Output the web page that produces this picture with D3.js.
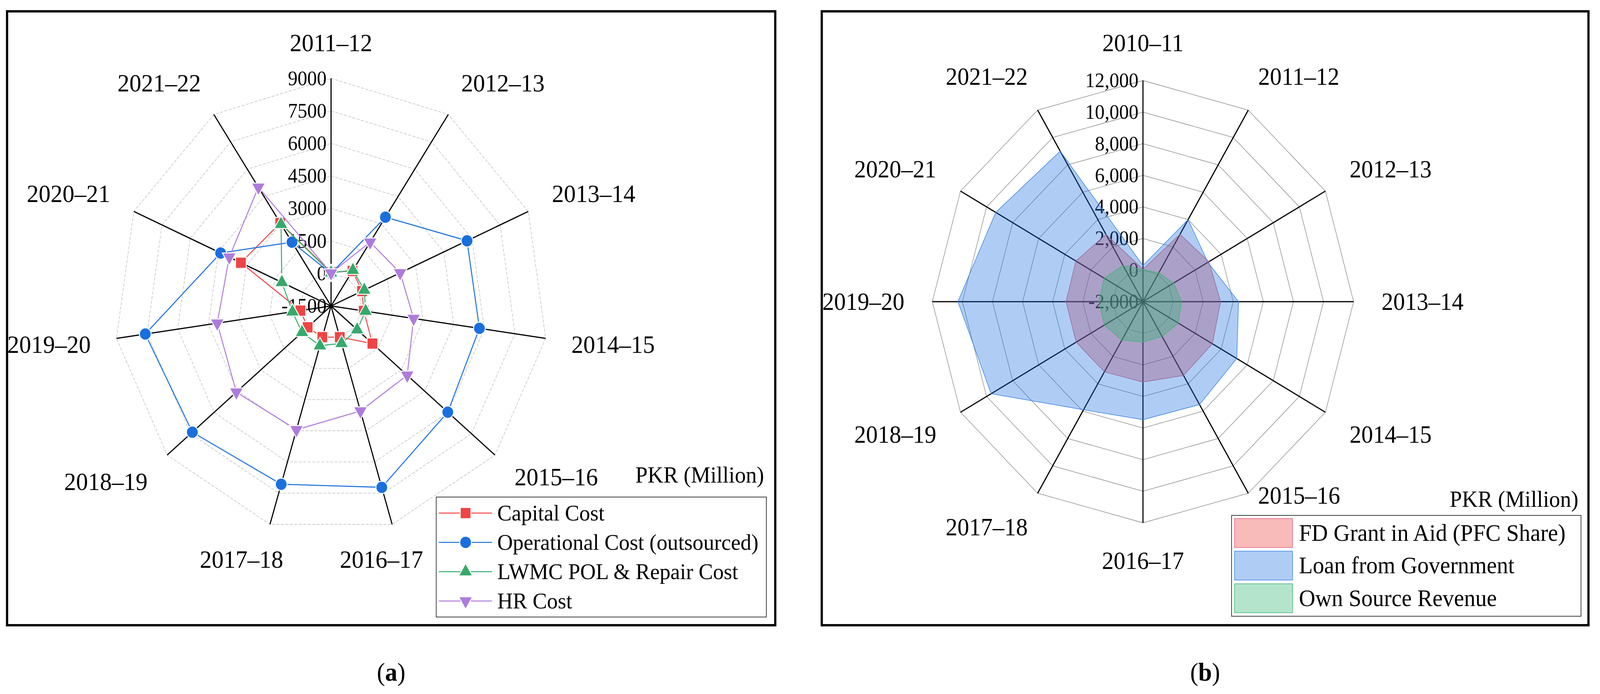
<!DOCTYPE html>
<html>
<head>
<meta charset="utf-8">
<script src="https://cdn.jsdelivr.net/npm/d3@7"></script>
<style>
  html, body { margin: 0; padding: 0; background: #fff; overflow: hidden; }
  svg { display: block; width: 100vw; height: 100vh; font-family: "Liberation Serif", "DejaVu Serif", serif; }
</style>
</head>
<body>
<svg id="chart"></svg>
<script>
// --- DATA: panel (a), PKR million ---
const yearsA = ["2011–12", "2012–13", "2013–14", "2014–15", "2015–16", "2016–17",
                "2017–18", "2018–19", "2019–20", "2020–21", "2021–22"];
const capitalCost     = [50, 420, 150, 100, 1150, 0, 0, 0, 0, 3300, 3050];
const operationalCost = [0, 3370, 5740, 5760, 5980, 7220, 7070, 7390, 7590, 4380, 2000];
const lwmcCost        = [30, 460, 270, 190, 170, 300, 410, 360, 390, 1120, 2980];
const hrCost          = [20, 2000, 2180, 2540, 3380, 3550, 4450, 4570, 4070, 3920, 5010];
const ticksA      = [-1500, 0, 1500, 3000, 4500, 6000, 7500, 9000];
const tickLabelsA = ["-1500", "0", "1500", "3000", "4500", "6000", "7500", "9000"];

// --- DATA: panel (b), PKR million ---
const yearsB = ["2010–11", "2011–12", "2012–13", "2013–14", "2014–15", "2015–16",
                "2016–17", "2017–18", "2018–19", "2019–20", "2020–21", "2021–22"];
const fdGrant   = [50, 2930, 3060, 3160, 3330, 3390, 3090, 3130, 3130, 3110, 3150, 2910];
const loanGov   = [290, 4000, 2980, 4350, 5200, 5520, 5470, 5900, 9650, 10300, 9300, 9000];
const ownSource = [30, 110, 350, 550, 710, 540, 550, 810, 950, 930, 970, 650];
const ticksB      = [-2000, 0, 2000, 4000, 6000, 8000, 10000, 12000];
const tickLabelsB = ["-2,000", "0", "2,000", "4,000", "6,000", "8,000", "10,000", "12,000"];

// --- SERIES STYLES ---
const seriesA = [
    { name: "Capital Cost", values: capitalCost, color: "#ef4444", symbol: d3.symbolSquare, size: 690, flip: false },
    { name: "Operational Cost (outsourced)", values: operationalCost, color: "#1a6fdf", symbol: d3.symbolCircle, size: 660, flip: false },
    { name: "LWMC POL & Repair Cost", values: lwmcCost, color: "#36a96b", symbol: d3.symbolTriangle, size: 470, flip: false },
    { name: "HR Cost", values: hrCost, color: "#ae7bdc", symbol: d3.symbolTriangle, size: 470, flip: true }
];
const seriesB = [
    { name: "FD Grant in Aid (PFC Share)", values: fdGrant, fill: "rgba(239,68,68,0.37)", stroke: "#e0607a" },
    { name: "Loan from Government", values: loanGov, fill: "rgba(26,111,223,0.35)", stroke: "#3a82e6" },
    { name: "Own Source Revenue", values: ownSource, fill: "rgba(46,184,114,0.36)", stroke: "#3cb371" }
];

// --- LAYOUT ---
const W = 4299, H = 1776;
const panelA = { cx: 889.5, cy: 783, radius: 582.5, gap: 70, catFont: 64,
    frame: [19, 29, 2083, 1600], legend: { x: 1172, y: 1272, w: 887, h: 307 }, captionX: 1051, letter: "a",
    gridColor: "#c4c4c4", gridDash: "8,4", gridWidth: 1.6 };
const panelB = { cx: 3071, cy: 772, radius: 566, gap: 75, catFont: 63,
    frame: [2208, 29, 4268, 1600], legend: { x: 3309, y: 1319, w: 939, h: 258 }, captionX: 3238, letter: "b",
    gridColor: "#808080", gridDash: null, gridWidth: 1.3 };

// the drawing is laid out on a 4299x1776 canvas and fills the whole window
const svg = d3.select("#chart")
    .attr("viewBox", `0 0 ${W} ${H}`)
    .attr("preserveAspectRatio", "none");
svg.append("rect").attr("width", W).attr("height", H).attr("fill", "#fff");

function drawFrame(p) {
    const [x0, y0, x1, y1] = p.frame;
    svg.append("rect")
        .attr("x", x0).attr("y", y0)
        .attr("width", x1 - x0).attr("height", y1 - y0)
        .attr("fill", "none").attr("stroke", "#000").attr("stroke-width", 6);
    const cap = svg.append("text")
        .attr("x", p.captionX).attr("y", 1742)
        .attr("text-anchor", "middle").attr("font-size", 66);
    cap.append("tspan").text("(");
    cap.append("tspan").attr("font-weight", "bold").text(p.letter);
    cap.append("tspan").text(")");
}

// grid, spokes, tick labels and category labels of one radar
function drawRadarFrame(p, categories, ticks, tickLabels) {
    const n = categories.length;
    const g = svg.append("g").attr("transform", `translate(${p.cx},${p.cy})`);
    const r = d3.scaleLinear().domain([ticks[0], ticks[ticks.length - 1]]).range([0, p.radius]);
    const angle = i => i * 2 * Math.PI / n;
    const ring = d3.lineRadial().angle((d, i) => angle(i)).radius(d => r(d)).curve(d3.curveLinearClosed);

    g.selectAll(".ring")
        .data(ticks.slice(1))
        .enter().append("path")
        .attr("class", "ring")
        .attr("d", t => ring(d3.range(n).map(() => t)))
        .attr("fill", "none")
        .attr("stroke", p.gridColor)
        .attr("stroke-width", p.gridWidth)
        .attr("stroke-dasharray", p.gridDash);

    g.selectAll(".spoke")
        .data(categories)
        .enter().append("line")
        .attr("class", "spoke")
        .attr("x1", 0).attr("y1", 0)
        .attr("x2", (d, i) => p.radius * Math.sin(angle(i)))
        .attr("y2", (d, i) => -p.radius * Math.cos(angle(i)))
        .attr("stroke", "#000").attr("stroke-width", 3);

    g.selectAll(".tick")
        .data(ticks)
        .enter().append("text")
        .attr("class", "tick")
        .attr("x", -12)
        .attr("y", t => -r(t) + 17)
        .attr("text-anchor", "end")
        .attr("font-size", 52)
        .text((t, i) => tickLabels[i]);

    // category labels: anchor on the ray past the rim, the box hangs off the
    // anchor by the side facing the centre; then nudged away from the legend
    const L = p.legend;
    const ex = { x0: L.x - 35, y0: L.y - 30, x1: L.x + L.w, y1: L.y + L.h };
    const capH = p.catFont * 0.68;
    const clamp = v => Math.max(-1, Math.min(1, v * 1.8));
    categories.forEach((c, i) => {
        const t = g.append("text").attr("font-size", p.catFont).attr("text-anchor", "middle").text(c);
        const w = t.node().getComputedTextLength();
        const ux = Math.sin(angle(i)), uy = -Math.cos(angle(i));
        let x = p.cx + (p.radius + p.gap) * ux + clamp(ux) * w / 2;
        let y = p.cy + (p.radius + p.gap) * uy + clamp(uy) * capH / 2;
        const box = { x0: x - w / 2, x1: x + w / 2, y0: y - capH / 2, y1: y + capH / 2 };
        if (box.x1 > ex.x0 && box.x0 < ex.x1 && box.y1 > ex.y0 && box.y0 < ex.y1) {
            if (x < L.x) x = ex.x0 - w / 2;
            else y = ex.y0 - capH / 2;
        }
        t.attr("x", x - p.cx).attr("y", y - p.cy + capH / 2);
    });

    return { g, r, angle };
}

// --- PANEL (a): line radar with markers ---
drawFrame(panelA);
const radarA = drawRadarFrame(panelA, yearsA, ticksA, tickLabelsA);
const lineA = d3.lineRadial()
    .angle((d, i) => radarA.angle(i))
    .radius(d => radarA.r(d))
    .curve(d3.curveLinearClosed);

seriesA.forEach(s => {
    const sg = radarA.g.append("g");
    sg.append("path")
        .attr("d", lineA(s.values))
        .attr("fill", "none")
        .attr("stroke", s.color)
        .attr("stroke-width", 2.6);
    sg.selectAll(".mk")
        .data(s.values)
        .enter().append("path")
        .attr("class", "mk")
        .attr("d", d3.symbol().type(s.symbol).size(s.size))
        .attr("transform", (d, i) => {
            const a = radarA.angle(i), rr = radarA.r(d);
            return `translate(${rr * Math.sin(a)},${-rr * Math.cos(a)})` + (s.flip ? " rotate(180)" : "");
        })
        .attr("fill", s.color)
        .attr("stroke", "#fff")
        .attr("stroke-width", 5)
        .attr("paint-order", "stroke");
});

// legend (a)
const legA = svg.append("g").attr("transform", `translate(${panelA.legend.x},${panelA.legend.y})`);
legA.append("rect")
    .attr("width", panelA.legend.w).attr("height", panelA.legend.h)
    .attr("fill", "#fff").attr("stroke", "#000").attr("stroke-width", 1.5);
seriesA.forEach((s, i) => {
    const y = 41 + i * 75;
    legA.append("line").attr("x1", 7).attr("x2", 150).attr("y1", y).attr("y2", y)
        .attr("stroke", s.color).attr("stroke-width", 2.6);
    legA.append("path")
        .attr("d", d3.symbol().type(s.symbol).size(s.size))
        .attr("transform", `translate(79,${y})` + (s.flip ? " rotate(180)" : ""))
        .attr("fill", s.color).attr("stroke", "#fff").attr("stroke-width", 5).attr("paint-order", "stroke");
    legA.append("text").attr("x", 164).attr("y", y + 19).attr("font-size", 58).text(s.name);
});
svg.append("text")
    .attr("x", 2053).attr("y", 1235)
    .attr("text-anchor", "end").attr("font-size", 59)
    .text("PKR (Million)");

// --- PANEL (b): filled radar ---
drawFrame(panelB);
const radarB = drawRadarFrame(panelB, yearsB, ticksB, tickLabelsB);
const areaB = d3.lineRadial()
    .angle((d, i) => radarB.angle(i))
    .radius(d => radarB.r(d))
    .curve(d3.curveLinearClosed);

seriesB.forEach(s => {
    radarB.g.append("path")
        .attr("d", areaB(s.values))
        .attr("fill", s.fill)
        .attr("stroke", s.stroke)
        .attr("stroke-width", 1.5);
});

// legend (b)
const legB = svg.append("g").attr("transform", `translate(${panelB.legend.x},${panelB.legend.y})`);
legB.append("rect")
    .attr("width", panelB.legend.w).attr("height", panelB.legend.h)
    .attr("fill", "#fff").attr("stroke", "#000").attr("stroke-width", 1.5);
seriesB.forEach((s, i) => {
    const y0 = 8 + i * 83.5;
    legB.append("rect").attr("x", 8).attr("y", y0).attr("width", 156).attr("height", 74)
        .attr("fill", s.fill).attr("stroke", s.stroke).attr("stroke-width", 1.5);
    legB.append("text").attr("x", 181).attr("y", y0 + 37 + 20).attr("font-size", 61).text(s.name);
});
svg.append("text")
    .attr("x", 4241).attr("y", 1297)
    .attr("text-anchor", "end").attr("font-size", 59)
    .text("PKR (Million)");
</script>
</body>
</html>
